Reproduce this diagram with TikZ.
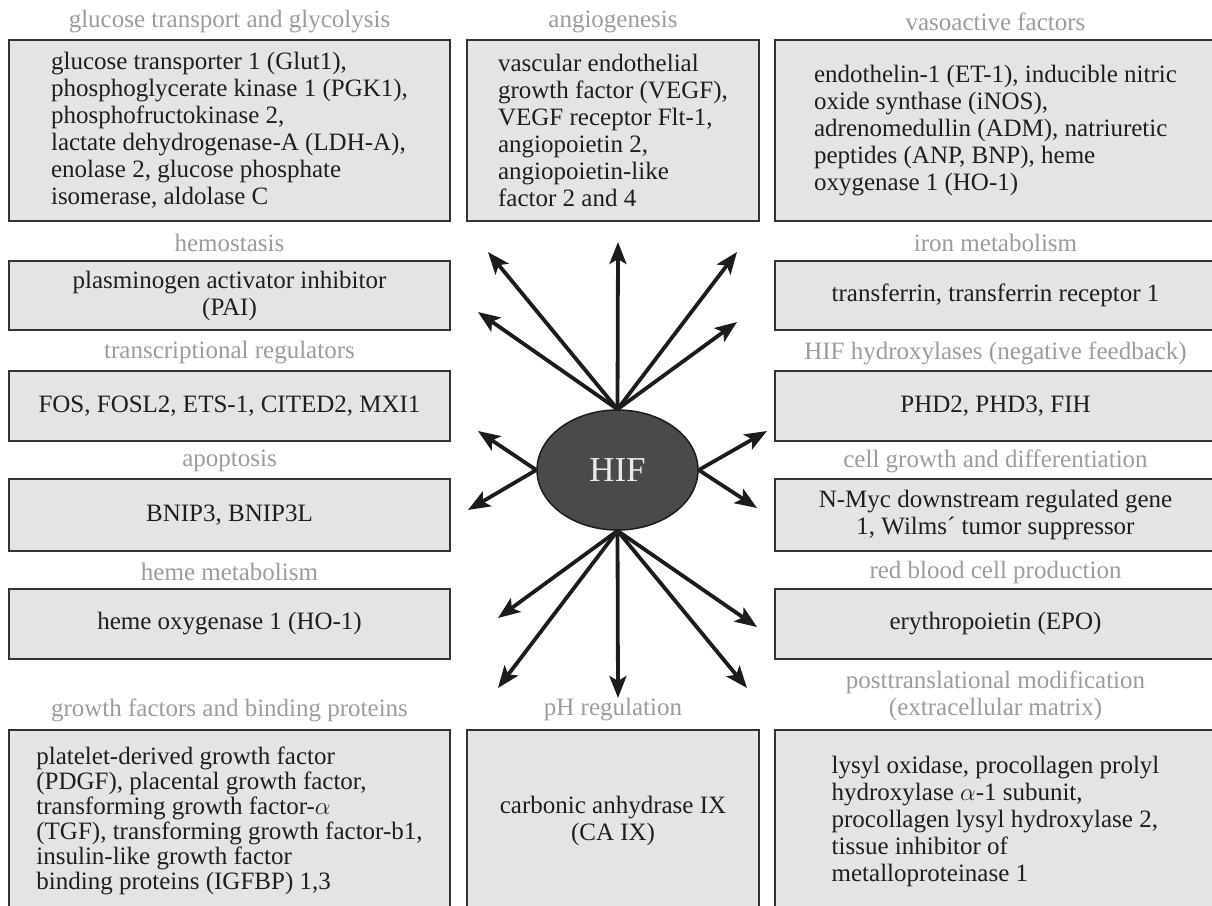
\documentclass[tikz,border=0pt]{standalone}
\usepackage{fontspec}
\setmainfont{Liberation Serif}
\usetikzlibrary{arrows.meta,shapes.geometric}
\definecolor{boxfill}{HTML}{E4E4E4}
\definecolor{boxline}{HTML}{333333}
\definecolor{lblgray}{HTML}{9C9C9C}
\definecolor{bodytext}{HTML}{1E1E1E}
\definecolor{hiffill}{HTML}{4A4A4A}
\definecolor{arrowc}{HTML}{1C1C1C}
\begin{document}
\begin{tikzpicture}[x=1pt,y=-1pt,
  box/.style={draw=boxline, line width=2.2pt, fill=boxfill, inner sep=0pt, text=bodytext, font=\fontsize{25}{27}\selectfont},
  lbl/.style={text=lblgray, font=\fontsize{25}{27}\selectfont, inner sep=0pt, align=center},
  harrow/.style={draw=arrowc, line width=3.8pt, -{Stealth[length=22pt,width=17pt,inset=5pt]}}]
\clip (0,0) rectangle (1212,905);
\fill[white] (0,0) rectangle (1212,905);

% row 1
\node[lbl] (l1a) at (229.5,22) {glucose transport and glycolysis};
\node[lbl] (l1b) at (613,22) {angiogenesis};
\node[lbl] (l1c) at (995.5,22) {vasoactive factors};
\node[box, minimum width=441pt, minimum height=181pt, align=left] (b1a) at (229.5,130.5)
 {glucose transporter 1 (Glut1),\\phosphoglycerate kinase 1 (PGK1),\\phosphofructokinase 2,\\lactate dehydrogenase-A (LDH-A),\\enolase 2, glucose phosphate\\isomerase, aldolase C};
\node[box, minimum width=292pt, minimum height=181pt, align=left] (b1b) at (613,130.5)
 {vascular endothelial\\growth factor (VEGF),\\VEGF receptor Flt-1,\\angiopoietin 2,\\angiopoietin-like\\factor 2 and 4};
\node[box, minimum width=441pt, minimum height=181pt, align=left] (b1c) at (995.5,130.5)
 {endothelin-1 (ET-1), inducible nitric\\oxide synthase (iNOS),\\adrenomedullin (ADM), natriuretic\\peptides (ANP, BNP), heme\\oxygenase 1 (HO-1)};

% row 2
\node[lbl] (l2a) at (229.5,243) {hemostasis};
\node[lbl] (l2c) at (995.5,243) {iron metabolism};
\node[box, minimum width=441pt, minimum height=69pt, align=center] (b2a) at (229.5,295.5)
 {plasminogen activator inhibitor\\(PAI)};
\node[box, minimum width=441pt, minimum height=69pt, align=center] (b2c) at (995.5,295.5)
 {transferrin, transferrin receptor 1};

% row 3
\node[lbl] (l3a) at (229.5,353) {transcriptional regulators};
\node[lbl] (l3c) at (995.5,353) {HIF hydroxylases (negative feedback)};
\node[box, minimum width=441pt, minimum height=70pt, align=center] (b3a) at (229.5,406)
 {FOS, FOSL2, ETS-1, CITED2, MXI1};
\node[box, minimum width=441pt, minimum height=70pt, align=center] (b3c) at (995.5,406)
 {PHD2, PHD3, FIH};

% row 4
\node[lbl] (l4a) at (229.5,461) {apoptosis};
\node[lbl] (l4c) at (995.5,461) {cell growth and differentiation};
\node[box, minimum width=441pt, minimum height=72pt, align=center] (b4a) at (229.5,515)
 {BNIP3, BNIP3L};
\node[box, minimum width=441pt, minimum height=72pt, align=center] (b4c) at (995.5,515)
 {N-Myc downstream regulated gene\\1, Wilms´ tumor suppressor};

% row 5
\node[lbl] (l5a) at (229.5,572) {heme metabolism};
\node[lbl] (l5c) at (995.5,572) {red blood cell production};
\node[box, minimum width=441pt, minimum height=70pt, align=center] (b5a) at (229.5,624)
 {heme oxygenase 1 (HO-1)};
\node[box, minimum width=441pt, minimum height=70pt, align=center] (b5c) at (995.5,624)
 {erythropoietin (EPO)};

% row 6
\node[lbl] (l6a) at (229.5,710) {growth factors and binding proteins};
\node[lbl] (l6b) at (613,710) {pH regulation};
\node[lbl] (l6c) at (995.5,696) {posttranslational modification\\(extracellular matrix)};
\node[box, minimum width=441pt, minimum height=182pt, align=left, font=\fontsize{25}{25}\selectfont] (b6a) at (229.5,821)
 {platelet-derived growth factor\\(PDGF), placental growth factor,\\transforming growth factor-$\alpha$\\(TGF), transforming growth factor-b1,\\insulin-like growth factor\\binding proteins (IGFBP) 1,3};
\node[box, minimum width=292pt, minimum height=182pt, align=center] (b6b) at (613,821)
 {carbonic anhydrase IX\\(CA IX)};
\node[box, minimum width=441pt, minimum height=182pt, align=left] (b6c) at (995.5,821)
 {lysyl oxidase, procollagen prolyl\\hydroxylase $\alpha$-1 subunit,\\procollagen lysyl hydroxylase 2,\\tissue inhibitor of\\metalloproteinase 1};

% HIF
\node[ellipse, draw=arrowc, line width=1.5pt, fill=hiffill, minimum width=161pt, minimum height=120pt, inner sep=0pt, text=white!92!black, font=\fontsize{35}{40}\selectfont] (hif) at (617.5,470) {HIF};

% arrow tips
\coordinate (t1) at (618,242);
\coordinate (t2) at (488,252);
\coordinate (t3) at (478,312);
\coordinate (t4) at (737,252);
\coordinate (t5) at (737,322);
\coordinate (s1) at (478,431);
\coordinate (s2) at (468,510);
\coordinate (s3) at (767,431);
\coordinate (s4) at (757,508);
\coordinate (d1) at (618,698);
\coordinate (d2) at (498,688);
\coordinate (d3) at (498,618);
\coordinate (d4) at (747,688);
\coordinate (d5) at (757,627);

\foreach \t in {t1,t2,t3,t4,t5} \draw[harrow] (hif.north) -- (\t);
\foreach \t in {s1,s2} \draw[harrow] (hif.west) -- (\t);
\foreach \t in {s3,s4} \draw[harrow] (hif.east) -- (\t);
\foreach \t in {d1,d2,d3,d4,d5} \draw[harrow] (hif.south) -- (\t);
\end{tikzpicture}
\end{document}
